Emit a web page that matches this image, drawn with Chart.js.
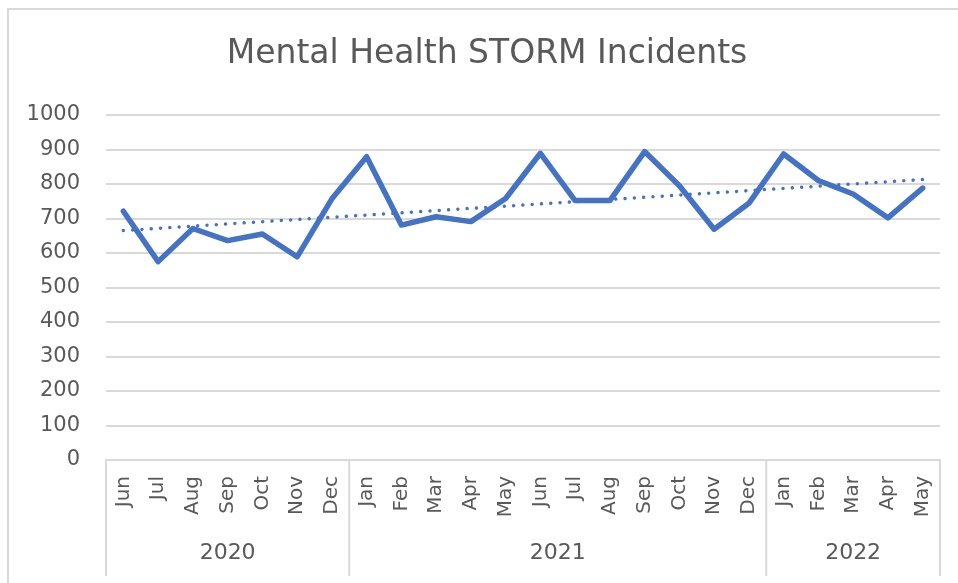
<!DOCTYPE html>
<html>
<head>
<meta charset="utf-8">
<script src="https://cdn.jsdelivr.net/npm/chart.js@4.4.0/dist/chart.umd.min.js"></script>
<style>
  html, body { margin: 0; padding: 0; background: #fff; }
  #wrap { width: 958px; height: 583px; }
</style>
</head>
<body>
<div id="wrap"><canvas id="grafico" width="958" height="583"></canvas></div>
<script>
// datos
const titulo = 'Mental Health STORM Incidents';
const meses = ['Jun', 'Jul', 'Aug', 'Sep', 'Oct', 'Nov', 'Dec',
  'Jan', 'Feb', 'Mar', 'Apr', 'May', 'Jun', 'Jul', 'Aug', 'Sep', 'Oct', 'Nov', 'Dec',
  'Jan', 'Feb', 'Mar', 'Apr', 'May'];
const anios = ['2020', '2021', '2022'];
const mesesPorAnio = [7, 12, 5];
const incidentes = [721, 575, 671, 636, 655, 589, 757,
  879, 681, 705, 691, 758, 889, 752, 752, 894, 795, 669, 744,
  887, 810, 771, 702, 788];
// linea de tendencia: solo extremos leidos
const tendencia = [665, null, null, null, null, null, null, null, null, null, null, null,
  null, null, null, null, null, null, null, null, null, null, null, 813];
const ticksY = [0, 100, 200, 300, 400, 500, 600, 700, 800, 900, 1000];

const GRIS = '#d9d9d9';
const TEXTO = '#595959';
const FUENTE = 'DejaVu Sans';

const marcoYAnios = {
  id: 'marcoYAnios',
  beforeDraw(chart) {
    const c = chart.ctx;
    c.save();
    c.strokeStyle = GRIS;
    c.lineWidth = 2;
    c.beginPath();
    c.moveTo(8, 583);
    c.lineTo(8, 9);
    c.lineTo(958, 9);
    c.stroke();
    // titulo
    c.fillStyle = TEXTO;
    c.font = '33px "' + FUENTE + '"';
    c.textAlign = 'center';
    c.textBaseline = 'middle';
    c.fillText(titulo, 487, 54);
    c.restore();
  },
  afterDraw(chart) {
    const c = chart.ctx;
    const x = chart.scales.x;
    const area = chart.chartArea;
    const bordes = [area.left];
    let idx = 0;
    mesesPorAnio.forEach((n, i) => {
      idx += n;
      if (i < mesesPorAnio.length - 1) {
        bordes.push((x.getPixelForTick(idx - 1) + x.getPixelForTick(idx)) / 2);
      }
    });
    bordes.push(area.right);
    c.save();
    c.strokeStyle = GRIS;
    c.lineWidth = 2;
    bordes.forEach(b => {
      c.beginPath();
      c.moveTo(b, area.bottom);
      c.lineTo(b, 576);
      c.stroke();
    });
    c.fillStyle = TEXTO;
    c.font = '22px "' + FUENTE + '"';
    c.textAlign = 'center';
    c.textBaseline = 'middle';
    anios.forEach((a, i) => {
      c.fillText(a, (bordes[i] + bordes[i + 1]) / 2, 553);
    });
    c.restore();
  }
};

const ctx = document.getElementById('grafico').getContext('2d');
const grafico = new Chart(ctx, {
  type: 'line',
  data: {
    labels: meses,
    datasets: [{
      label: 'Incidents',
      data: incidentes,
      borderColor: '#4472C4',
      borderWidth: 5.5,
      pointRadius: 0,
      tension: 0,
      borderJoinStyle: 'round',
      borderCapStyle: 'round',
      fill: false
    }, {
      label: 'Trend',
      data: tendencia,
      borderColor: '#4472C4',
      borderWidth: 3.5,
      borderDash: [0.01, 9.3],
      borderCapStyle: 'round',
      pointRadius: 0,
      spanGaps: true,
      fill: false
    }]
  },
  options: {
    responsive: false,
    animation: false,
    layout: { padding: { left: 10, right: 18, top: 115, bottom: 0 } },
    plugins: {
      legend: { display: false },
      tooltip: { enabled: false },
      title: { display: false }
    },
    scales: {
      x: {
        offset: true,
        grid: { display: false },
        border: { display: true, color: GRIS, width: 2 },
        ticks: {
          autoSkip: false,
          minRotation: 90,
          maxRotation: 90,
          padding: 8,
          color: TEXTO,
          font: { family: FUENTE, size: 20 }
        },
        afterFit(s) { s.height = 123; }
      },
      y: {
        min: 0,
        max: 1000,
        afterBuildTicks(s) { s.ticks = ticksY.map(v => ({ value: v })); },
        grid: { color: GRIS, lineWidth: 2, drawTicks: false },
        border: { display: false },
        ticks: {
          padding: 26,
          color: TEXTO,
          font: { family: FUENTE, size: 21 },
          callback: v => String(v)
        },
        afterFit(s) { s.width = 96; }
      }
    }
  },
  plugins: [marcoYAnios]
});
</script>
</body>
</html>
